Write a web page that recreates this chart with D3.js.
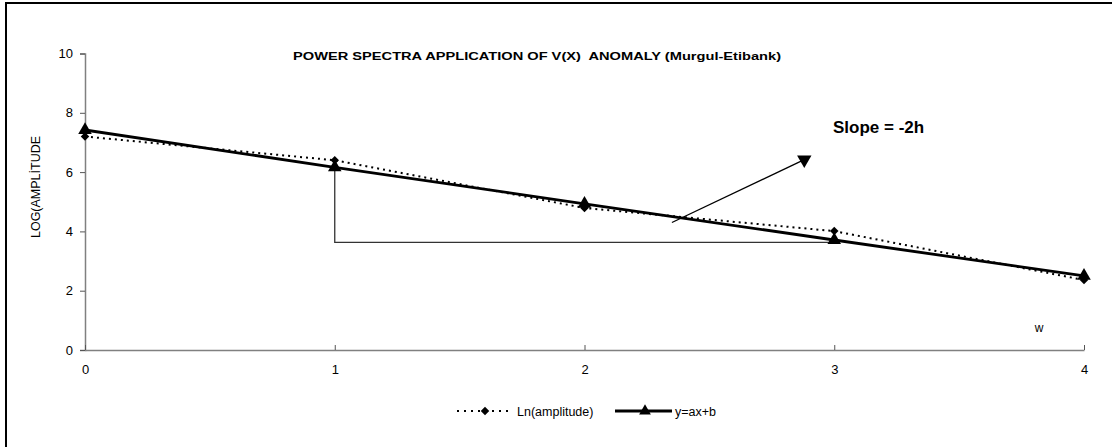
<!DOCTYPE html>
<html>
<head>
<meta charset="utf-8">
<script src="https://cdn.jsdelivr.net/npm/d3@7"></script>
<style>
  body { margin: 0; background: #fff; }
  svg { display: block; font-family: "Liberation Sans", Arial, sans-serif; }
</style>
</head>
<body>
<div id="chart"></div>
<script>
// data
var freqs = [0, 1, 2, 3, 4];
var lnAmp = [7.2, 6.4, 4.79, 4.01, 2.36];
var fitVals = [7.42, 6.16, 4.93, 3.71, 2.5];
var xTicks = [0, 1, 2, 3, 4];
var yTicks = [0, 2, 4, 6, 8, 10];
// slope triangle drawn on the fit line
var triX = [1, 1, 3];
var triY = [6.16, 3.63, 3.63];
// arrow pointing at the label
var arrowX = [2.35, 2.88];
var arrowY = [4.3, 6.42];

var width = 1112, height = 447;
var plotLeft = 85, plotRight = 1084, plotTop = 53.5, plotBottom = 350;

var svg = d3.select("#chart").append("svg")
  .attr("width", width)
  .attr("height", height);

svg.append("rect").attr("width", width).attr("height", height).attr("fill", "#fff");
// outer frame (right and bottom fall outside the picture)
svg.append("rect")
  .attr("x", 6).attr("y", 3)
  .attr("width", width + 10).attr("height", height + 10)
  .attr("fill", "none").attr("stroke", "#000").attr("stroke-width", 2);

var x = d3.scaleLinear().domain([0, 4]).range([plotLeft, plotRight]);
var y = d3.scaleLinear().domain([0, 10]).range([plotBottom, plotTop]);

// y axis
var yAxis = svg.append("g")
  .attr("transform", "translate(" + plotLeft + ",0)")
  .call(d3.axisLeft(y).tickValues(yTicks).tickFormat(d3.format("d")).tickSize(5).tickPadding(7));
yAxis.attr("font-size", 13).attr("font-family", "Liberation Sans, Arial, sans-serif");
yAxis.select(".domain").attr("stroke", "#808080").attr("stroke-width", 1.5);
yAxis.selectAll(".tick line").attr("stroke", "#555");
yAxis.selectAll("text").attr("fill", "#000");

// x axis, ticks pointing up
var xAxis = svg.append("g")
  .attr("transform", "translate(0," + plotBottom + ")")
  .call(d3.axisBottom(x).tickValues(xTicks).tickFormat(d3.format("d"))
    .tickSizeInner(-5).tickSizeOuter(0).tickPadding(15));
xAxis.attr("font-size", 13).attr("font-family", "Liberation Sans, Arial, sans-serif");
xAxis.select(".domain").attr("stroke", "#808080").attr("stroke-width", 1.5);
xAxis.selectAll(".tick line").attr("stroke", "#555");
xAxis.selectAll("text").attr("fill", "#000");

// title
svg.append("text")
  .attr("x", 293).attr("y", 60)
  .attr("font-size", 11.5).attr("font-weight", "bold")
  .attr("xml:space", "preserve")
  .attr("textLength", 488).attr("lengthAdjust", "spacingAndGlyphs")
  .text("POWER SPECTRA APPLICATION OF V(X)  ANOMALY (Murgul-Etibank)");

// y label
svg.append("text")
  .attr("transform", "translate(40,187) rotate(-90)")
  .attr("text-anchor", "middle")
  .attr("font-size", 12.5)
  .text("LOG(AMPLİTUDE");

var line = d3.line().x(function(d){ return x(d[0]); }).y(function(d){ return y(d[1]); });

// slope triangle
svg.append("path")
  .attr("d", line(d3.zip(triX, triY)))
  .attr("fill", "none").attr("stroke", "#333").attr("stroke-width", 1.3);

// arrow
svg.append("path")
  .attr("d", line(d3.zip(arrowX, arrowY)))
  .attr("fill", "none").attr("stroke", "#000").attr("stroke-width", 1.3);
svg.append("path")
  .attr("d", d3.symbol().type(d3.symbolTriangle).size(90)())
  .attr("transform", "translate(" + x(arrowX[1]) + "," + y(arrowY[1]) + ") rotate(180)")
  .attr("fill", "#000");

svg.append("text")
  .attr("x", 833).attr("y", 133)
  .attr("font-size", 17).attr("font-weight", "bold")
  .text("Slope = -2h");

svg.append("text")
  .attr("x", 1039).attr("y", 332)
  .attr("text-anchor", "middle")
  .attr("font-size", 12)
  .text("w");

var diamond = d3.symbol().type(d3.symbolSquare).size(36)();

// Ln(amplitude) dotted series
svg.append("path")
  .attr("d", line(d3.zip(freqs, lnAmp)))
  .attr("fill", "none").attr("stroke", "#000")
  .attr("stroke-width", 2).attr("stroke-dasharray", "2,4");
svg.selectAll(".dia")
  .data(d3.zip(freqs, lnAmp))
  .enter().append("path")
  .attr("d", diamond)
  .attr("transform", function(d){ return "translate(" + x(d[0]) + "," + y(d[1]) + ") rotate(45)"; })
  .attr("fill", "#000");

// fit line
svg.append("path")
  .attr("d", line(d3.zip(freqs, fitVals)))
  .attr("fill", "none").attr("stroke", "#000").attr("stroke-width", 2.8);
svg.selectAll(".tri")
  .data(d3.zip(freqs, fitVals))
  .enter().append("path")
  .attr("d", d3.symbol().type(d3.symbolTriangle).size(80)())
  .attr("transform", function(d){ return "translate(" + x(d[0]) + "," + y(d[1]) + ")"; })
  .attr("fill", "#000");

// legend
var lg = svg.append("g").attr("transform", "translate(0,411)");
lg.append("line").attr("x1", 457).attr("x2", 511).attr("y1", 0).attr("y2", 0)
  .attr("stroke", "#000").attr("stroke-width", 2).attr("stroke-dasharray", "2,5");
lg.append("path").attr("d", diamond)
  .attr("transform", "translate(485,0) rotate(45)").attr("fill", "#000");
lg.append("text").attr("x", 517).attr("y", 4.5).attr("font-size", 12.5).text("Ln(amplitude)");
lg.append("line").attr("x1", 615).attr("x2", 672).attr("y1", 0).attr("y2", 0)
  .attr("stroke", "#000").attr("stroke-width", 2.8);
lg.append("path").attr("d", d3.symbol().type(d3.symbolTriangle).size(60)())
  .attr("transform", "translate(645,0)").attr("fill", "#000");
lg.append("text").attr("x", 675).attr("y", 4.5).attr("font-size", 12.5).text("y=ax+b");
</script>
</body>
</html>
